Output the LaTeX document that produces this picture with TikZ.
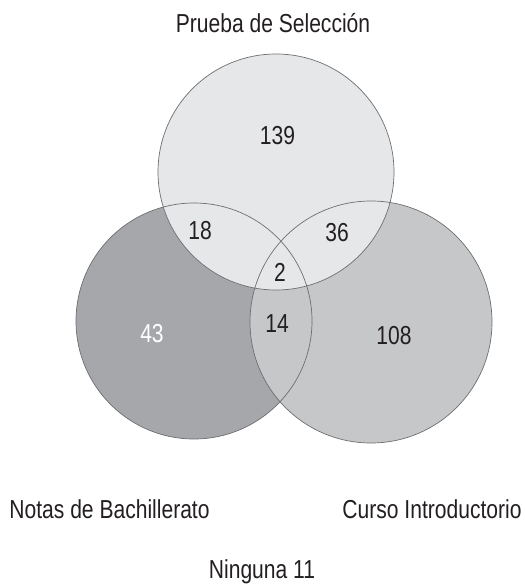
\documentclass[tikz,border=0pt]{standalone}
\usepackage{fontspec}
\setmainfont[FakeStretch=0.81]{Liberation Sans}
\begin{document}
\begin{tikzpicture}[x=1pt,y=-1pt,
  lbl/.style={font=\fontsize{26}{28}\selectfont, text=txt, inner sep=0pt, anchor=base},
  ring/.style={draw=ringc, line width=0.7pt}]
\definecolor{topc}{HTML}{E6E7E9}
\definecolor{leftc}{HTML}{A6A7AA}
\definecolor{rightc}{HTML}{C6C7C9}
\definecolor{ringc}{HTML}{6D6E70}
\definecolor{txt}{HTML}{231F20}
\useasboundingbox (0,0) rectangle (524,585);
\coordinate (T) at (276,172);
\coordinate (L) at (194,321);
\coordinate (R) at (371,322);
\fill[leftc] (L) circle (118);
\fill[rightc] (R) circle (121);
\fill[topc] (T) circle (118);
\draw[ring] (L) circle (118);
\draw[ring] (R) circle (121);
\draw[ring] (T) circle (118);
\node[lbl] (ps) at (273,33) {Prueba de Selección};
\node[lbl] (n139) at (277.5,145) {139};
\node[lbl] (n18) at (200,239) {18};
\node[lbl] (n36) at (337,241) {36};
\node[lbl] (n2) at (280,281) {2};
\node[lbl, text=white] (n43) at (152,342) {43};
\node[lbl] (n14) at (277,332) {14};
\node[lbl] (n108) at (394,344) {108};
\node[lbl] (nb) at (109.5,518) {Notas de Bachillerato};
\node[lbl] (ci) at (432,518) {Curso Introductorio};
\node[lbl] (ng) at (262,578) {Ninguna 11};
\end{tikzpicture}
\end{document}
